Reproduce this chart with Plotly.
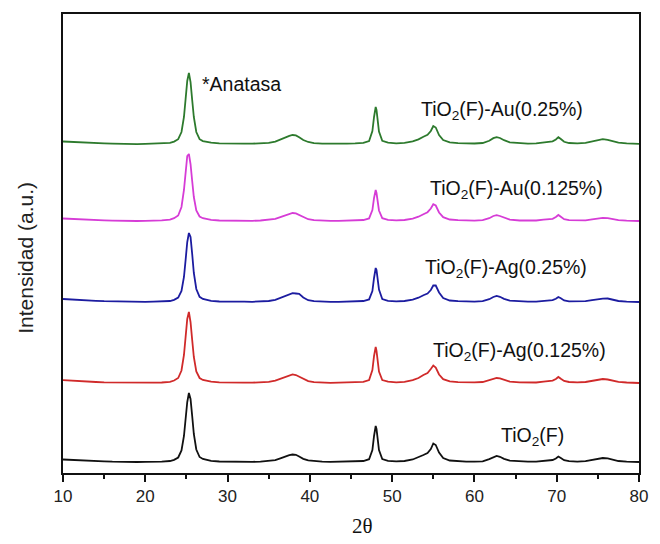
import plotly.graph_objects as go

# 2-theta grid (degrees)
two_theta = [10, 11, 12, 13, 14, 15, 16, 17, 18, 19,
             20, 21, 22, 23, 23.5, 24, 24.4, 24.7, 24.9, 25.1,
             25.3, 25.5, 25.7, 25.9, 26.2, 26.6, 27.0, 27.5, 28, 29,
             30, 31, 32, 33, 34, 35, 35.8, 36.5, 37.0, 37.5,
             37.9, 38.3, 38.7, 39.2, 39.8, 40.5, 41.5, 42.5, 43.5, 44.5,
             45.5, 46.5, 47.2, 47.6, 47.8, 47.9, 48.0, 48.1, 48.2, 48.4,
             48.8, 49.5, 50.5, 51.5, 52.5, 53.2, 53.8, 54.3, 54.7, 55.0,
             55.3, 55.7, 56.2, 57, 58, 59, 60, 61, 61.8, 62.3,
             62.7, 63.1, 63.6, 64.3, 65.5, 66.5, 67.5, 68.4, 68.9, 69.5,
             69.9, 70.2, 70.5, 70.9, 71.5, 72.5, 73.5, 74.3, 75.0, 75.6,
             76.2, 76.8, 77.5, 78.5, 79.5, 80]

# Intensities (a.u.) above each pattern's own baseline
tio2_f = [2.5, 2.0, 1.8, 1.2, 0.8, 0.7, 0.3, 0.0, 0.3, 0.0,
          0.2, 0.1, 0.4, 1.0, 2.2, 4.5, 11.5, 26, 43, 60,
          69, 63, 46, 28, 12.5, 5, 3, 1.8, 1.2, 0.5,
          0.3, 0.0, 0.2, 0.1, 0.4, 0.8, 1.8, 3.8, 5.5, 6.8,
          7.5, 7.2, 5.5, 3.2, 1.6, 0.8, 0.3, 0.1, 0.2, 0.3,
          0.5, 1.0, 2.8, 12, 26, 33, 36, 33, 26, 12,
          3, 1.2, 0.6, 1.0, 2.5, 4.5, 7, 9, 13, 18.5,
          17, 9.5, 4, 1.5, 0.8, 0.4, 0.3, 0.7, 2.8, 5,
          6, 5.2, 3.2, 1.3, 0.5, 0.3, 0.4, 1.2, 1.8, 2,
          3.5, 5.5, 4, 1.8, 0.8, 0.4, 0.8, 2, 3.3, 4,
          3.6, 2.2, 1.0, 0.4, 0.1, 0.0]

tio2_ag_0125 = [2.8, 2.2, 1.6, 1.5, 1.0, 0.6, 0.5, 0.2, 0.0, 0.2,
                0.0, 0.3, 0.5, 1.2, 2.5, 5, 12.5, 28, 46, 64,
                71, 61, 43, 26, 11.5, 5, 3, 2, 1.3, 0.6,
                0.3, 0.2, 0.4, 0.3, 0.6, 1.1, 2.3, 4.5, 6.3, 7.8,
                8.6, 8.0, 6.2, 3.8, 1.9, 0.9, 0.4, 0.2, 0.3, 0.4,
                0.6, 1.1, 3, 13, 27, 34, 36, 32, 25, 11.5,
                3, 1.3, 0.7, 1.2, 2.8, 5, 8, 10, 14, 17.5,
                15.5, 8.5, 3.8, 1.6, 0.8, 0.5, 0.6, 1.0, 2.8, 4.5,
                5, 4.6, 3, 1.4, 0.6, 0.3, 0.5, 1.3, 2, 2.4,
                4, 6, 4.2, 2, 1, 0.6, 1.0, 2.3, 3.5, 4,
                3.5, 2.2, 1.1, 0.5, 0.2, 0.0]

tio2_ag_025 = [3.0, 2.4, 2.0, 1.5, 1.2, 0.8, 0.6, 0.3, 0.2, 0.0,
               0.1, 0.3, 0.4, 1.0, 2.2, 4.4, 11, 25, 42, 60,
               69, 65, 48, 29, 13, 5.2, 3, 1.8, 1.2, 0.5,
               0.2, 0.0, 0.3, 0.2, 0.5, 1.0, 2.2, 4.5, 6.5, 8.0,
               8.8, 8.5, 8.2, 4.5, 1.8, 0.8, 0.3, 0.1, 0.2, 0.3,
               0.5, 1.0, 2.6, 11, 24, 31, 34, 32, 26, 12.5,
               3, 1.2, 0.6, 1.0, 2.4, 4.3, 6.8, 8.5, 12, 16.5,
               16.5, 9.5, 4, 1.5, 0.8, 0.4, 0.4, 0.8, 2.8, 5,
               6, 5.2, 3.2, 1.3, 0.5, 0.3, 0.4, 1.0, 1.5, 1.8,
               3.2, 5, 3.8, 1.6, 0.7, 0.4, 0.8, 1.8, 2.8, 3.4,
               3.5, 2.3, 1.0, 0.4, 0.2, 0.0]

tio2_au_0125 = [2.5, 2.0, 1.6, 1.3, 0.8, 0.6, 0.4, 0.1, 0.2, 0.0,
                0.2, 0.3, 0.6, 1.3, 2.8, 5.5, 14, 31, 49, 65,
                67, 57, 40, 24, 10.5, 4.5, 2.8, 1.8, 1.2, 0.5,
                0.3, 0.1, 0.3, 0.2, 0.5, 1.0, 2.1, 4.2, 5.8, 7.2,
                8.0, 7.6, 6.0, 3.6, 1.8, 0.8, 0.3, 0.1, 0.2, 0.3,
                0.5, 1.0, 2.6, 11, 23, 29, 31, 28, 22, 10.5,
                2.8, 1.2, 0.6, 1.0, 2.4, 4.3, 6.8, 8.8, 12.5, 16.8,
                15.5, 8.5, 3.8, 1.5, 0.8, 0.4, 0.4, 0.8, 2.8, 5,
                5.8, 5.0, 3.2, 1.3, 0.5, 0.3, 0.5, 1.3, 2.0, 2.2,
                4, 6, 4.2, 1.8, 0.8, 0.4, 0.7, 1.6, 2.6, 3.1,
                2.8, 1.8, 0.9, 0.4, 0.2, 0.0]

tio2_au_025 = [2.5, 2.0, 1.5, 1.2, 0.7, 0.6, 0.3, 0.0, 0.2, -0.1,
               0.1, 0.3, 0.5, 1.1, 2.4, 4.8, 12, 27, 45, 63,
               71, 62, 44, 27, 12, 4.8, 2.9, 1.9, 1.3, 0.6,
               0.3, 0.1, 0.3, 0.3, 0.6, 1.1, 2.4, 4.8, 6.8, 8.2,
               9.0, 8.6, 6.8, 4.0, 2.0, 0.9, 0.4, 0.2, 0.3, 0.4,
               0.6, 1.1, 3, 13, 27, 34.5, 37, 34, 27, 12.5,
               3.2, 1.3, 0.7, 1.1, 2.6, 4.6, 7.2, 9.2, 13, 18,
               16.5, 9, 4, 1.6, 0.9, 0.5, 0.5, 1.0, 3.2, 5.8,
               6.8, 6.0, 3.8, 1.6, 0.6, 0.4, 0.6, 1.5, 2.2, 2.6,
               4.5, 6.8, 5, 2.2, 1.0, 0.6, 1.2, 2.8, 4.2, 4.8,
               4.2, 2.8, 1.3, 0.6, 0.3, 0.1]

series_names = ["TiO2(F)", "TiO2(F)-Ag(0.125%)", "TiO2(F)-Ag(0.25%)",
                "TiO2(F)-Au(0.125%)", "TiO2(F)-Au(0.25%)"]
series_values = [tio2_f, tio2_ag_0125, tio2_ag_025, tio2_au_0125, tio2_au_025]
series_offsets = [11, 90, 171, 252, 329]
series_colors = ["#111111", "#d02a2a", "#1c1ca0", "#d63cd6", "#2d7a2d"]

labels = ["TiO<sub>2</sub>(F)", "TiO<sub>2</sub>(F)-Ag(0.125%)", "TiO<sub>2</sub>(F)-Ag(0.25%)",
          "TiO<sub>2</sub>(F)-Au(0.125%)", "TiO<sub>2</sub>(F)-Au(0.25%)", "*Anatasa"]
label_x = [62.98, 54.72, 53.78, 54.31, 53.3, 26.62]
label_y = [36.3, 121.3, 204.7, 283.3, 363, 389]

fig = go.Figure()
for name, vals, off, col in zip(series_names, series_values, series_offsets, series_colors):
    fig.add_trace(go.Scatter(x=two_theta, y=[v + off for v in vals], mode="lines",
                             name=name, line=dict(color=col, width=1.8), showlegend=False))

for t, lx, ly in zip(labels, label_x, label_y):
    fig.add_annotation(x=lx, y=ly, xref="x", yref="y", text=t, showarrow=False,
                       xanchor="left", yanchor="middle",
                       font=dict(family="Liberation Sans, Arial", size=19.5, color="#111"))

fig.add_annotation(x=0.52, y=-0.115, xref="paper", yref="paper", text="2θ", showarrow=False,
                   xanchor="center", yanchor="middle",
                   font=dict(family="Liberation Serif, Times New Roman", size=21, color="#111"))
fig.add_annotation(x=-0.065, y=0.468, xref="paper", yref="paper", text="Intensidad (a.u.)",
                   textangle=-90, showarrow=False, xanchor="center", yanchor="middle",
                   font=dict(family="Liberation Sans, Arial", size=21, color="#222"))

fig.update_layout(
    width=660, height=544,
    margin=dict(l=63, r=13, t=14, b=71),
    paper_bgcolor="white", plot_bgcolor="white",
    font=dict(family="Liberation Sans, Arial", color="#111"),
)
fig.update_xaxes(range=[10, 80], tickvals=[10, 20, 30, 40, 50, 60, 70, 80],
                 ticks="outside", ticklen=7, tickwidth=1.5, tickcolor="#111",
                 minor=dict(tickvals=[15, 25, 35, 45, 55, 65, 75], ticks="outside",
                            ticklen=4, tickwidth=1.5, tickcolor="#111"),
                 showline=True, linecolor="#111", linewidth=2, mirror=True,
                 showgrid=False, zeroline=False,
                 tickfont=dict(size=17, family="Liberation Sans, Arial", color="#222"))
fig.update_yaxes(range=[0, 459], showticklabels=False, ticks="",
                 showline=True, linecolor="#111", linewidth=2, mirror=True,
                 showgrid=False, zeroline=False)

fig.write_html("out.html")
